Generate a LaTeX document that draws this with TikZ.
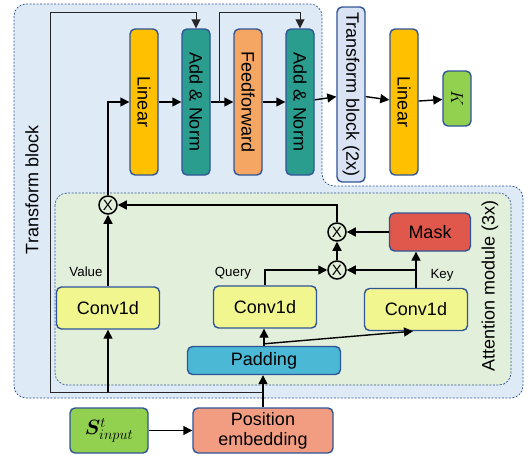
\documentclass[tikz,border=0pt]{standalone}
\usepackage{fontspec}
\setmainfont{Liberation Sans}
\usepackage{bm}
\usetikzlibrary{arrows.meta}
\definecolor{boxline}{RGB}{47,85,151}
\definecolor{blockfill}{RGB}{222,234,246}
\definecolor{attnfill}{RGB}{226,239,218}
\definecolor{linfill}{RGB}{255,192,0}
\definecolor{normfill}{RGB}{42,157,143}
\definecolor{fffill}{RGB}{244,166,98}
\definecolor{tbfill}{RGB}{218,227,243}
\definecolor{kfill}{RGB}{146,208,80}
\definecolor{maskfill}{RGB}{224,88,75}
\definecolor{convfill}{RGB}{242,246,143}
\definecolor{padfill}{RGB}{75,184,214}
\definecolor{posfill}{RGB}{242,157,130}
\tikzset{
  >={Triangle[length=9pt,width=9pt]},
  blk/.style={draw=boxline, line width=1.4pt, rounded corners=5pt, inner sep=0pt, font=\fontsize{18}{20}\selectfont},
  tallblk/.style={blk, minimum width=28pt, minimum height=146pt},
  wideblk/.style={blk, minimum width=103pt, minimum height=42pt},
  mul/.style={circle, draw, line width=1.5pt, inner sep=0pt, minimum size=18pt, font=\fontsize{15}{15}\selectfont},
  arr/.style={line width=1.4pt, ->},
  frameline/.style={line width=0.9pt, draw=black!85, ->},
  lbl/.style={font=\fontsize{13.3}{15}\selectfont},
  zone/.style={draw=boxline, line width=0.7pt, dash pattern=on 2pt off 1.5pt, rounded corners=12pt},
  sidelabel/.style={rotate=90, font=\fontsize{18}{20}\selectfont}
}
\begin{document}
\begin{tikzpicture}[x=1pt,y=-1pt]
\useasboundingbox (0,0) rectangle (531,458);
\draw [zone, fill=blockfill] (14,4) -- (322,4) -- (322,186) -- (523,186) -- (523,398) -- (14,398) -- cycle;
\draw [zone, fill=attnfill] (55,193) rectangle (511,385);
\node (tblabel) [sidelabel] at (32,190) {Transform block};
\node (attnlabel) [sidelabel] at (490,286) {Attention module (3x)};

\node (lin1) [tallblk, fill=linfill] at (144,102) {\rotatebox{-90}{Linear}};
\node (an1) [tallblk, fill=normfill] at (196,102) {\rotatebox{-90}{Add \& Norm}};
\node (ff) [tallblk, fill=fffill] at (248,102) {\rotatebox{-90}{Feedforward}};
\node (an2) [tallblk, fill=normfill] at (300,102) {\rotatebox{-90}{Add \& Norm}};
\node (tb2) [tallblk, fill=tbfill, minimum height=175pt] at (351,94.5) {\rotatebox{-90}{Transform block (2x)}};
\node (lin2) [tallblk, fill=linfill] at (404,102) {\rotatebox{-90}{Linear}};
\node (kout) [tallblk, fill=kfill, minimum height=55pt] at (457,98.5) {\rotatebox{-90}{$K$}};

\node (mask) [blk, fill=maskfill, minimum width=81pt, minimum height=38pt] at (430,232) {Mask};
\node (mulA) [mul] at (337,232) {X};
\node (mulB) [mul] at (337,270) {X};
\node (mulV) [mul] at (108,205) {X};
\node (convv) [wideblk, fill=convfill] at (108,308) {Conv1d};
\node (convq) [wideblk, fill=convfill] at (265,307) {Conv1d};
\node (convk) [wideblk, fill=convfill] at (416,309.5) {Conv1d};
\node (pad) [blk, fill=padfill, minimum width=153pt, minimum height=28pt] at (264,360.5) {Padding};
\node (pos) [blk, fill=posfill, minimum width=140pt, minimum height=45pt, align=center] at (263,430.5) {Position\\embedding};
\node (sin) [blk, fill=kfill, minimum width=78pt, minimum height=45pt, font=\fontsize{22}{24}\selectfont] at (109,430.5) {$\bm{S}^{t}_{input}$};

\node (vlabel) [lbl] at (86,272) {Value};
\node (qlabel) [lbl] at (233,273) {Query};
\node (klabel) [lbl] at (442,275) {Key};

\coordinate (split) at (263,392);
\coordinate (skip1top) at (50,12);
\coordinate (skip2) at (219,102);
\coordinate (skip2top) at (219,12);

\draw [arr] (sin) -- (pos);
\draw [arr] (pos.north) -- (pos.north |- pad.south);
\draw [frameline] (split) -| (skip1top) -| (an1.north);
\draw [arr] (convv.south |- split) -- (convv.south);
\draw [arr] (convv) -- (mulV);
\draw [arr] (mulV.north) |- (lin1.west);
\draw [arr] (lin1) -- (an1);
\draw [arr] (an1) -- (ff);
\draw [arr] (ff) -- (an2);
\draw [arr] (an2) -- (tb2);
\draw [arr] (tb2) -- (lin2);
\draw [arr] (lin2) -- (kout);
\draw [frameline] (skip2) -- (skip2top) -| (an2.north);

\draw [arr] (mask) -- (mulA);
\draw [arr] (mulB) -- (mulA);
\draw [arr] (mulA.north) |- (mulV.east);
\draw [arr] (convq.north) |- (mulB.west);
\draw [arr] (convk.north) -- (convk.north |- mask.south);
\draw [arr] (convk.north |- mulB) -- (mulB.east);
\draw [arr] (pad.north) -- (pad.north |- convq.south);
\draw [arr] ([yshift=2pt]pad.north) -- ([xshift=-3pt]convk.south);
\end{tikzpicture}
\end{document}
